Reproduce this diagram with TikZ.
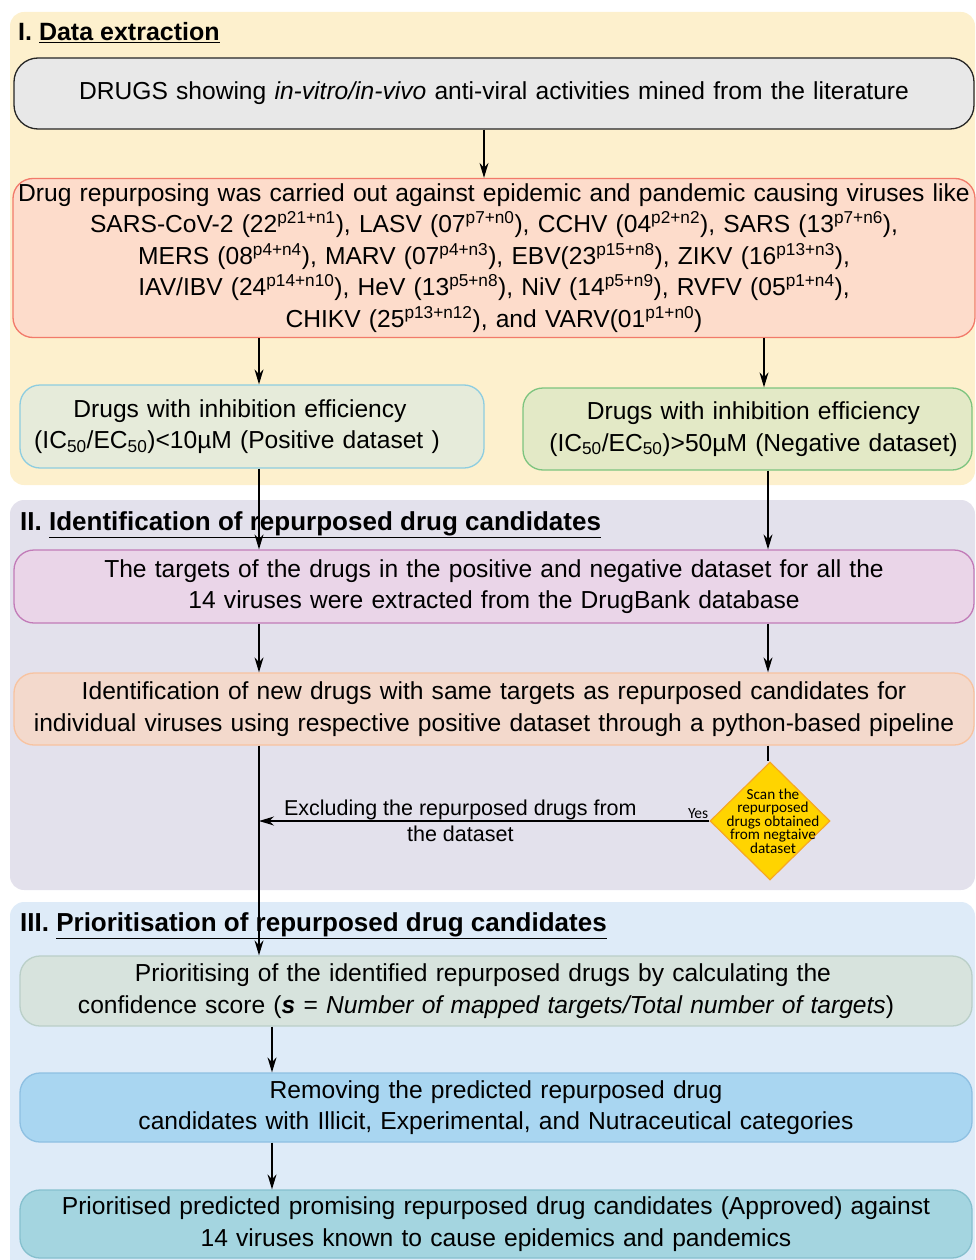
\documentclass[tikz,border=0pt]{standalone}
\usepackage{fontspec}
\setmainfont{Liberation Sans}
\newfontfamily\calib{Carlito}
\usetikzlibrary{arrows.meta,shapes.geometric,calc}
\definecolor{secI}{HTML}{FDF0CD}
\definecolor{secII}{HTML}{E3E1EC}
\definecolor{secIII}{HTML}{DEEBF8}
\definecolor{topF}{HTML}{E8E8E8}
\definecolor{redF}{HTML}{FDDCCB}
\definecolor{redD}{HTML}{F27A6A}
\definecolor{posF}{HTML}{E6EBDA}
\definecolor{posD}{HTML}{8ECDE0}
\definecolor{negF}{HTML}{E3E9C6}
\definecolor{negD}{HTML}{7DC47F}
\definecolor{pinkF}{HTML}{EAD5E8}
\definecolor{pinkD}{HTML}{C27BB8}
\definecolor{oraF}{HTML}{F3D9CC}
\definecolor{oraD}{HTML}{F8C3A0}
\definecolor{prioF}{HTML}{D7E3DD}
\definecolor{prioD}{HTML}{BACFC8}
\definecolor{remF}{HTML}{A9D6F1}
\definecolor{remD}{HTML}{8EC0E2}
\definecolor{finF}{HTML}{A4D5E0}
\definecolor{finD}{HTML}{86C0CE}
\definecolor{diaF}{HTML}{FFD400}
\definecolor{diaD}{HTML}{F7A823}
\begin{document}
\begin{tikzpicture}[x=1pt,y=-1pt,
  section/.style={rounded corners=14pt},
  box/.style={draw, rounded corners=20pt, line width=1.3pt, align=center, inner sep=0pt,
    font=\fontsize{24.6}{31.5}\selectfont},
  title/.style={anchor=base west, inner sep=0pt, font=\fontsize{25}{28}\selectfont\bfseries},
  arr/.style={line width=1.3pt, -{Stealth[length=15pt,width=9pt]}},
  plain/.style={line width=1.3pt}]
\useasboundingbox (0,0) rectangle (976,1260);
% section backgrounds
\fill[secI, section] (10,12) rectangle (975,485);
\fill[secII, section] (10,500) rectangle (975,890);
\fill[secIII, section] (10,902) rectangle (975,1275);
% titles
\node[title] (t1) at (18,41) {I. \underline{Data extraction}};
\node[title, font=\fontsize{26}{30}\selectfont\bfseries] (t2) at (20,530) {II. \underline{Identification of repurposed drug candidates}};
\node[title, font=\fontsize{26}{30}\selectfont\bfseries] (t3) at (20,931) {III. \underline{Prioritisation of repurposed drug candidates}};
% column coordinates
\coordinate (colM) at (484,0);
\coordinate (colL) at (259,0);
\coordinate (colR) at (764,0);
\coordinate (colR2) at (768,0);
\coordinate (colP) at (272,0);
% boxes
\node[box, fill=topF, draw=black!85, rounded corners=24pt, minimum width=960, minimum height=71, text width=950] (top) at (494,93.5)
  {DRUGS showing \textit{in-vitro/in-vivo} anti-viral activities mined from the literature};
\node[box, fill=redF, draw=redD, minimum width=962, minimum height=159, text width=958] (red) at (494,258)
  {Drug repurposing was carried out against epidemic and pandemic causing viruses like\\
   SARS-CoV-2 (22\textsuperscript{p21+n1}), LASV (07\textsuperscript{p7+n0}), CCHV (04\textsuperscript{p2+n2}), SARS (13\textsuperscript{p7+n6}),\\
   MERS (08\textsuperscript{p4+n4}), MARV (07\textsuperscript{p4+n3}), EBV(23\textsuperscript{p15+n8}), ZIKV (16\textsuperscript{p13+n3}),\\
   IAV/IBV (24\textsuperscript{p14+n10}), HeV (13\textsuperscript{p5+n8}), NiV (14\textsuperscript{p5+n9}), RVFV (05\textsuperscript{p1+n4}),\\
   CHIKV (25\textsuperscript{p13+n12}), and VARV(01\textsuperscript{p1+n0})};
\node[box, fill=posF, draw=posD, minimum width=464, minimum height=83, text width=460] (pos) at (252,426.5)
  {\hspace*{-24pt}Drugs with inhibition efficiency\\\hspace*{-30pt}(IC\textsubscript{50}/EC\textsubscript{50})<10µM (Positive dataset )};
\node[box, fill=negF, draw=negD, minimum width=449, minimum height=82, text width=445] (neg) at (747.5,429)
  {\hspace*{12pt}Drugs with inhibition efficiency\\\hspace*{12pt}(IC\textsubscript{50}/EC\textsubscript{50})>50µM (Negative dataset)};
\node[box, fill=pinkF, draw=pinkD, minimum width=960, minimum height=73, text width=950] (pink) at (494,586.5)
  {The targets of the drugs in the positive and negative dataset for all the\\14 viruses were extracted from the DrugBank database};
\node[box, fill=oraF, draw=oraD, minimum width=960, minimum height=72, text width=958] (ora) at (494,709)
  {Identification of new drugs with same targets as repurposed candidates for\\individual viruses using respective positive dataset through a python-based pipeline};
\node[box, fill=prioF, draw=prioD, minimum width=952, minimum height=70, text width=945] (prio) at (496,991)
  {\hspace*{-26pt}Prioritising of the identified repurposed drugs by calculating the\\\hspace*{-20pt}confidence score (\textbf{\textit{s}} = \textit{Number of mapped targets/Total number of targets})};
\node[box, fill=remF, draw=remD, minimum width=952, minimum height=69, text width=945] (rem) at (496,1107.5)
  {Removing the predicted repurposed drug\\candidates with Illicit, Experimental, and Nutraceutical categories};
\node[box, fill=finF, draw=finD, minimum width=952, minimum height=68, text width=945] (fin) at (496,1224)
  {Prioritised predicted promising repurposed drug candidates (Approved) against\\14 viruses known to cause epidemics and pandemics};
% diamond
\node[diamond, draw=diaD, fill=diaF, line width=1.2pt, minimum width=120, minimum height=118, inner sep=0pt,
  label={[font=\calib\fontsize{15.2}{13.4}\selectfont, align=center, inner sep=0pt, xshift=3pt]center:Scan the\\repurposed\\drugs obtained\\from negtaive\\dataset}] (dia) at (770,821) {};
% connectors
\draw[arr] (top.south -| colM) -- (red.north -| colM);
\draw[arr] (red.south -| colL) -- (pos.north -| colL);
\draw[arr] (red.south -| colR) -- (neg.north -| colR);
\draw[arr] (pos.south -| colL) -- (pink.north -| colL);
\draw[arr] (neg.south -| colR2) -- (pink.north -| colR2);
\draw[arr] (pink.south -| colL) -- (ora.north -| colL);
\draw[arr] (pink.south -| colR2) -- (ora.north -| colR2);
\draw[arr] (ora.south -| colL) -- (prio.north -| colL);
\draw[plain] (ora.south -| colR2) -- (dia.north -| colR2);
\draw[arr] (dia.west) -- (dia.west -| colL)
  node[pos=0.025, above, inner sep=2pt, font=\calib\fontsize{15.5}{15}\selectfont] (yes) {Yes}
  node[pos=0.553, align=center, inner sep=0pt, font=\fontsize{21.5}{26}\selectfont] (excl) {Excluding the repurposed drugs from\\the dataset};
\draw[arr] (prio.south -| colP) -- (rem.north -| colP);
\draw[arr] (rem.south -| colP) -- (fin.north -| colP);
\end{tikzpicture}
\end{document}
